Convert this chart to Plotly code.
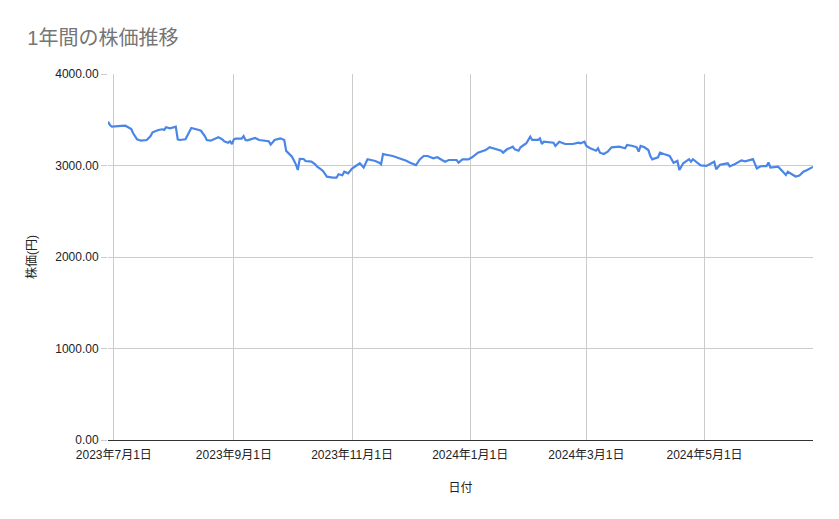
import plotly.graph_objects as go

# 日付と終値 (チャートから読み取った値)
dates = [
    '2023-06-28', '2023-06-29', '2023-06-30', '2023-07-03', '2023-07-05', '2023-07-07',
    '2023-07-08', '2023-07-10', '2023-07-11', '2023-07-13', '2023-07-15', '2023-07-18',
    '2023-07-20', '2023-07-21', '2023-07-24', '2023-07-26', '2023-07-27', '2023-07-28',
    '2023-07-30', '2023-08-01', '2023-08-02', '2023-08-03', '2023-08-04', '2023-08-07',
    '2023-08-08', '2023-08-10', '2023-08-14', '2023-08-15', '2023-08-17', '2023-08-18',
    '2023-08-20', '2023-08-22', '2023-08-24', '2023-08-26', '2023-08-27', '2023-08-29',
    '2023-08-30', '2023-08-31', '2023-09-01', '2023-09-02', '2023-09-05', '2023-09-06',
    '2023-09-07', '2023-09-08', '2023-09-12', '2023-09-14', '2023-09-16', '2023-09-19',
    '2023-09-20', '2023-09-22', '2023-09-25', '2023-09-27', '2023-09-28', '2023-10-01',
    '2023-10-03', '2023-10-04', '2023-10-05', '2023-10-07', '2023-10-08', '2023-10-11',
    '2023-10-13', '2023-10-14', '2023-10-16', '2023-10-17', '2023-10-19', '2023-10-20',
    '2023-10-22', '2023-10-24', '2023-10-25', '2023-10-27', '2023-10-28', '2023-10-30',
    '2023-11-01', '2023-11-05', '2023-11-07', '2023-11-09', '2023-11-11', '2023-11-13',
    '2023-11-15', '2023-11-16', '2023-11-17', '2023-11-19', '2023-11-20', '2023-11-22',
    '2023-11-26', '2023-11-29', '2023-12-01', '2023-12-04', '2023-12-06', '2023-12-08',
    '2023-12-10', '2023-12-13', '2023-12-15', '2023-12-19', '2023-12-21', '2023-12-25',
    '2023-12-26', '2023-12-28', '2023-12-31', '2024-01-02', '2024-01-05', '2024-01-09',
    '2024-01-11', '2024-01-14', '2024-01-17', '2024-01-18', '2024-01-20', '2024-01-23',
    '2024-01-24', '2024-01-26', '2024-01-27', '2024-01-30', '2024-02-01', '2024-02-02',
    '2024-02-05', '2024-02-06', '2024-02-07', '2024-02-08', '2024-02-13', '2024-02-14',
    '2024-02-16', '2024-02-19', '2024-02-23', '2024-02-26', '2024-02-27', '2024-02-29',
    '2024-03-01', '2024-03-03', '2024-03-05', '2024-03-06', '2024-03-07', '2024-03-08',
    '2024-03-10', '2024-03-12', '2024-03-14', '2024-03-18', '2024-03-21', '2024-03-22',
    '2024-03-25', '2024-03-27', '2024-03-28', '2024-03-29', '2024-03-31', '2024-04-02',
    '2024-04-03', '2024-04-04', '2024-04-07', '2024-04-08', '2024-04-10', '2024-04-13',
    '2024-04-15', '2024-04-17', '2024-04-18', '2024-04-20', '2024-04-23', '2024-04-24',
    '2024-04-25', '2024-04-27', '2024-04-29', '2024-05-02', '2024-05-06', '2024-05-07',
    '2024-05-09', '2024-05-13', '2024-05-14', '2024-05-17', '2024-05-20', '2024-05-22',
    '2024-05-26', '2024-05-28', '2024-05-30', '2024-06-02', '2024-06-03', '2024-06-04',
    '2024-06-08', '2024-06-10', '2024-06-12', '2024-06-13', '2024-06-15', '2024-06-17',
    '2024-06-19', '2024-06-21', '2024-06-23', '2024-06-25', '2024-06-26',
]
prices = [
    3479, 3443, 3424, 3424, 3432, 3435,
    3424, 3399, 3352, 3286, 3271, 3279,
    3322, 3363, 3388, 3396, 3388, 3418,
    3407, 3418, 3424, 3286, 3279, 3286,
    3333, 3410, 3388, 3380, 3322, 3279,
    3271, 3286, 3308, 3286, 3264, 3249,
    3264, 3235, 3286, 3293, 3293, 3322,
    3279, 3275, 3300, 3279, 3271, 3265,
    3228, 3279, 3297, 3279, 3160, 3096,
    3013, 2951, 3073, 3071, 3049, 3042,
    3013, 2987, 2958, 2940, 2878, 2872,
    2867, 2867, 2905, 2893, 2932, 2914,
    2966, 3024, 2978, 3069, 3060, 3050,
    3031, 3014, 3124, 3112, 3112, 3104,
    3079, 3053, 3031, 3005, 3067, 3104,
    3104, 3079, 3090, 3042, 3060, 3060,
    3031, 3067, 3067, 3090, 3140, 3169,
    3199, 3177, 3162, 3140, 3177, 3206,
    3177, 3162, 3199, 3243, 3315, 3279,
    3279, 3297, 3235, 3260, 3249, 3213,
    3260, 3235, 3235, 3249, 3243, 3260,
    3213, 3188, 3169, 3162, 3188, 3140,
    3126, 3151, 3199, 3206, 3188, 3224,
    3213, 3199, 3151, 3213, 3199, 3169,
    3104, 3067, 3090, 3140, 3125, 3105,
    3030, 3050, 2951, 3024, 3069, 3042,
    3069, 3033, 3002, 2996, 3042, 2960,
    3009, 3024, 2990, 3020, 3056, 3045,
    3069, 2969, 2992, 2994, 3033, 2978,
    2987, 2943, 2896, 2932, 2903, 2880,
    2890, 2932, 2951, 2976, 2985,
]

tick_dates = ['2023-07-01', '2023-09-01', '2023-11-01', '2024-01-01', '2024-03-01', '2024-05-01']
tick_labels = ['2023年7月1日', '2023年9月1日', '2023年11月1日', '2024年1月1日', '2024年3月1日', '2024年5月1日']

FONT = 'Liberation Sans, Arial, Noto Sans CJK JP, sans-serif'

fig = go.Figure()
fig.add_trace(go.Scatter(x=dates, y=prices, mode='lines',
                         line=dict(color='#4a86e8', width=2.2), showlegend=False))

# the page body adds an 8px margin, so the figure is shifted by that much
fig.update_layout(
    width=839, height=519,
    margin=dict(l=100, r=34, t=66, b=87),
    paper_bgcolor='white', plot_bgcolor='white',
    font=dict(family=FONT, size=12, color='#222222'),
    title=dict(text='1年間の株価推移', x=0.023, xanchor='left', y=0.942, yanchor='middle',
               font=dict(family=FONT, size=20, color='#757575')),
)
fig.update_xaxes(
    range=[dates[0], dates[-1]],
    tickvals=tick_dates, ticktext=tick_labels,
    showgrid=True, gridcolor='#cccccc', gridwidth=1,
    showline=False, zeroline=False, ticks='', automargin=False,
    ticklabelstandoff=6,
    title=dict(text='日付', standoff=22, font=dict(size=12, color='#222222')),
)
fig.update_yaxes(
    range=[0, 4000], dtick=1000, tickformat='.2f',
    showgrid=True, gridcolor='#cccccc', gridwidth=1,
    zeroline=True, zerolinecolor='#333333', zerolinewidth=1,
    showline=False, ticks='outside', ticklen=6, tickcolor='#cccccc', automargin=False,
    title=dict(text='株価(円)', standoff=16, font=dict(size=12, color='#222222')),
)

fig.write_html("out.html")
